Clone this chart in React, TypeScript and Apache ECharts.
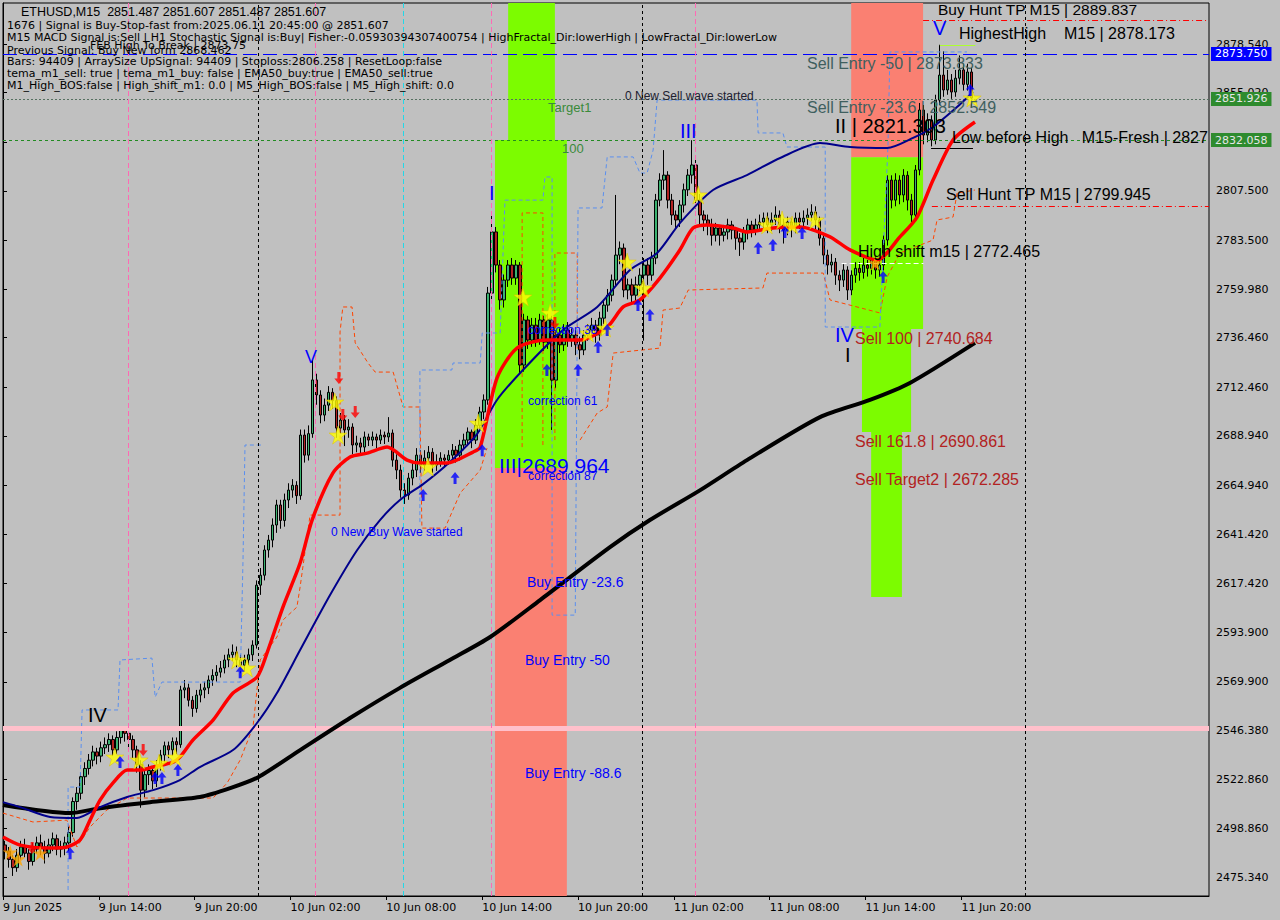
import React, { useEffect, useRef } from "react";
import * as echarts from "echarts";

// ---------------- DATA ----------------
const Y_MIN = 2466.29;
const Y_MAX = 2898.38;
const SLOT_COUNT = 302; // 15-minute slots visible (incl. right shift)

const yTickValues = [2878.54, 2855.02, 2831.02, 2807.5, 2783.5, 2759.98, 2736.46, 2712.46, 2688.94, 2664.94, 2641.42, 2617.42, 2593.9, 2569.9, 2546.38, 2522.86, 2498.86, 2475.34];
const xTickSlots = [0, 24, 48, 72, 96, 120, 144, 168, 192, 216, 240];
const xTickLabels = ["9 Jun 2025", "9 Jun 14:00", "9 Jun 20:00", "10 Jun 02:00", "10 Jun 08:00", "10 Jun 14:00", "10 Jun 20:00", "11 Jun 02:00", "11 Jun 08:00", "11 Jun 14:00", "11 Jun 20:00"];

// [open, close, low, high]
const candles: number[][] = [
  [2491,2488,2484,2493],[2488,2484,2480,2490],[2484,2480,2476,2486],[2480,2486,2478,2489],
  [2486,2490,2484,2493],[2490,2487,2485,2494],[2487,2483,2479,2489],[2483,2489,2481,2492],
  [2489,2492,2487,2495],[2492,2490,2486,2496],[2490,2487,2482,2493],[2487,2491,2485,2494],
  [2491,2494,2488,2497],[2494,2489,2486,2496],[2489,2490,2485,2493],[2490,2492,2486,2495],
  [2492,2497,2488,2500],[2497,2512,2495,2514],[2512,2516,2508,2519],[2516,2524,2513,2526],
  [2524,2528,2520,2531],[2528,2532,2525,2535],[2532,2536,2529,2539],[2536,2534,2530,2538],
  [2534,2538,2531,2541],[2538,2539.5,2535,2543],[2539.5,2542,2536,2545],[2542,2537,2534,2544],
  [2537,2543,2535,2546],[2543,2546.5,2540,2548],[2546.5,2545,2541,2548],[2545,2542,2538,2547],
  [2542,2537,2533,2544],[2537,2530,2526,2539],[2530,2517.5,2509,2532],[2517.5,2525,2514,2527],
  [2525,2527,2520,2530],[2527,2522,2518,2529],[2522,2529.6,2519,2532],[2529.6,2534.5,2527,2537],
  [2534.5,2539,2531,2541],[2539,2537,2533,2541],[2537,2541,2534,2543],[2541,2539.5,2535,2543],
  [2539.5,2566,2538,2568],[2566,2567,2562,2570.8],[2567,2561,2558,2569],[2561,2557,2553,2563],
  [2557,2563.5,2555,2566],[2563.5,2566,2560,2569],[2566,2567,2562,2570],[2567,2570.8,2564,2573],
  [2570.8,2573,2568,2576],[2573,2574.6,2570,2578],[2574.6,2576.6,2572,2580],[2576.6,2580.5,2574,2583],
  [2580.5,2583,2577,2586],[2583,2584.3,2580,2588],[2584.3,2580.5,2577,2587],[2580.5,2578,2574,2583],
  [2578,2580.5,2575,2583],[2580.5,2583,2578,2586],[2583,2587.7,2580,2590],[2587.7,2616.7,2586,2619],
  [2616.7,2621.5,2612,2625],[2621.5,2633.7,2619,2636],[2633.7,2638.5,2630,2641],[2638.5,2645.8,2635,2649],
  [2645.8,2655.5,2642,2658],[2655.5,2648,2644,2658],[2648,2657.9,2645,2661],[2657.9,2662.7,2654,2666],
  [2662.7,2665,2659,2668],[2665,2660,2656,2667],[2660,2689.3,2658,2692],[2689.3,2679.6,2676,2692],
  [2679.6,2690,2677,2694],[2690,2716,2688,2725.6],[2716,2708.7,2704,2719],[2708.7,2699,2695,2711],
  [2699,2703.8,2696,2707],[2703.8,2710,2701,2713],[2710,2706,2702,2712],[2706,2692.7,2688,2708],
  [2692.7,2696.6,2690,2700],[2696.6,2691.8,2684,2699],[2691.8,2693.2,2688,2697],[2693.2,2684.5,2680,2695],
  [2684.5,2685.5,2681,2689],[2685.5,2683.5,2680,2688],[2683.5,2688.4,2681,2691],[2688.4,2686.9,2684,2690],
  [2686.9,2688.4,2684,2691],[2688.4,2686.9,2683,2690],[2686.9,2689.3,2685,2692],[2689.3,2688.4,2685,2691],
  [2688.4,2690.3,2686,2698],[2690.3,2677.2,2674,2692],[2677.2,2672.4,2668,2680],[2672.4,2662.7,2659,2675],
  [2662.7,2660.3,2656,2666],[2660.3,2668.5,2658,2671],[2668.5,2672.4,2665,2676],[2672.4,2679.6,2669,2683],
  [2679.6,2674.8,2671,2682],[2674.8,2678.2,2672,2682],[2678.2,2681,2675,2684],[2681,2674.8,2671,2683],
  [2674.8,2676.3,2672,2680],[2676.3,2678.2,2674,2681],[2678.2,2677.2,2674,2680],[2677.2,2679.6,2675,2682],
  [2679.6,2682,2677,2685],[2682,2679.6,2676,2684],[2679.6,2684.5,2677,2687],[2684.5,2686.9,2682,2690],
  [2686.9,2690.8,2684,2693],[2690.8,2686.9,2683,2692],[2686.9,2694,2685,2697],[2694,2700.5,2691,2703],
  [2700.5,2706.3,2697,2709],[2706.3,2758,2704,2761],[2758,2787.6,2755,2797.2],[2787.6,2771.6,2768,2790],
  [2771.6,2754.7,2750,2774],[2754.7,2764.3,2751,2767],[2764.3,2771.6,2761,2774],[2771.6,2765.3,2762,2775],
  [2765.3,2771.6,2762,2774],[2771.6,2723.2,2719,2773],[2723.2,2745,2720,2748],[2745,2735.3,2731,2747],
  [2735.3,2742.5,2732,2746],[2742.5,2735.3,2732,2746],[2735.3,2745,2733,2748],[2745,2734.3,2730,2747],
  [2734.3,2745,2731,2748],[2745,2715.9,2691.8,2747],[2715.9,2737.7,2712,2740],[2737.7,2733,2729,2741],
  [2733,2740.1,2730,2743],[2740.1,2735.3,2732,2744],[2735.3,2737.7,2732,2741],[2737.7,2733,2728,2740],
  [2733,2730.5,2726,2737],[2730.5,2737.7,2728,2740],[2737.7,2740.1,2735,2743],[2740.1,2742.5,2737,2746],
  [2742.5,2737.7,2734,2745],[2737.7,2745.9,2735,2749],[2745.9,2752.2,2743,2755],[2752.2,2757,2749,2760],
  [2757,2764.3,2754,2767],[2764.3,2776.4,2761,2805.5],[2776.4,2779.8,2772,2783],[2779.8,2759.5,2756,2782],
  [2759.5,2762,2755,2765],[2762,2757,2753,2765],[2757,2762,2754,2766],[2762,2766.7,2759,2770],
  [2766.7,2771.6,2735,2775],[2771.6,2766.7,2762,2775],[2766.7,2775,2764,2778],[2775,2803,2772,2806],
  [2803,2812.7,2800,2816],[2812.7,2815.1,2808,2827.2],[2815.1,2803,2799,2817],[2803,2795.8,2791,2806],
  [2795.8,2793.4,2789,2798],[2793.4,2800.6,2790,2803],[2800.6,2808,2797,2811],[2808,2815.1,2805,2818],
  [2815.1,2820,2811,2832],[2820,2803,2799,2823],[2803,2795.8,2790,2806],[2795.8,2793.4,2788,2798],
  [2793.4,2791,2786,2796],[2791,2786,2781,2794],[2786,2789.5,2783,2792],[2789.5,2786,2781,2791],
  [2786,2787.6,2783,2791],[2787.6,2791,2784,2794],[2791,2788.5,2784,2793],[2788.5,2784.6,2779,2790],
  [2784.6,2782.7,2776,2787],[2782.7,2787.6,2779,2790],[2787.6,2791,2784,2794],[2791,2788.5,2785,2793],
  [2788.5,2791,2786,2794],[2791,2792.4,2788,2796],[2792.4,2794.3,2789,2797],[2794.3,2791,2787,2797],
  [2791,2793.4,2788,2797],[2793.4,2795.8,2791,2800],[2795.8,2791,2787,2798],[2791,2788.5,2782,2794],
  [2788.5,2792.4,2786,2795],[2792.4,2789.5,2785,2794],[2789.5,2794.3,2787,2797],[2794.3,2792.4,2789,2797],
  [2792.4,2794.3,2790,2798],[2794.3,2795.8,2791,2799],[2795.8,2797.2,2793,2801],[2797.2,2793.4,2789,2800],
  [2793.4,2784.6,2781,2795],[2784.6,2776.4,2772,2786],[2776.4,2771.6,2767,2779],[2771.6,2773,2768,2777],
  [2773,2766.7,2762,2775],[2766.7,2764.3,2759,2769],[2764.3,2769.2,2761,2772],[2769.2,2759.5,2754.7,2771],
  [2759.5,2766.7,2757,2769],[2766.7,2770,2763,2773],[2770,2768,2764,2773],[2768,2771.6,2765,2775],
  [2771.6,2770,2766,2774],[2770,2774.5,2767,2777],[2774.5,2769.2,2765,2776],[2769.2,2771.6,2766,2775],
  [2771.6,2783.7,2769,2786],[2783.7,2812.7,2781,2815],[2812.7,2803,2799,2815],[2803,2812.7,2800,2816],
  [2812.7,2805.5,2801,2815],[2805.5,2815,2802,2818],[2815,2803,2798,2817],[2803,2795.8,2791,2806],
  [2795.8,2817.6,2793,2820],[2817.6,2846.6,2815,2850],[2846.6,2834.5,2830,2849],[2834.5,2841.8,2831,2845],
  [2841.8,2832.1,2829,2844],[2832.1,2851.4,2830,2854],[2851.4,2863.5,2849,2878.17],[2863.5,2856.3,2853,2875],
  [2856.3,2861.1,2854,2866],[2861.1,2855.3,2852,2864],[2855.3,2862,2853,2866],[2862,2866,2859,2873],
  [2866,2859,2856,2869],[2859,2865,2856,2869],[2865,2852.4,2848,2867],[2851.487,2851.607,2851.487,2851.607],
];

// moving averages sampled as [slot, price]
const emaSlow: number[][] = [[0,2510.3],[16.8,2506.4],[24.3,2508.8],[36.8,2511.7],[49.3,2514.2],[56.9,2518.5],[63.9,2523.8],[74.4,2536.9],[86.9,2552.4],[99.4,2567.0],[111.9,2580.5],[122.0,2591.6],[134.5,2609.5],[152.0,2635.1],[162.0,2648.2],[174.6,2662.7],[186.3,2677.2],[204.6,2698.0],[217.1,2706.3],[227.1,2714.5],[243.4,2733.9]];
const emaMid: number[][] = [[0,2511.7],[4.3,2509.3],[11.8,2504.5],[18.5,2504.0],[24.3,2509.3],[31.1,2514.2],[37.6,2517.5],[44.3,2522.4],[49.3,2528.7],[57.6,2536.9],[63.6,2550.0],[68.6,2564.5],[74.4,2585.3],[81.9,2611.9],[88.7,2633.7],[94.4,2648.2],[99.4,2657.9],[105.2,2665.6],[111.9,2676.3],[118.7,2689.8],[123.7,2706.3],[130.2,2720.8],[140.2,2740.1],[148.8,2751.3],[157.0,2769.2],[163.8,2777.4],[169.5,2791.9],[177.8,2807.9],[186.3,2815.1],[194.6,2823.4],[204.6,2830.6],[212.1,2828.7],[221.4,2828.2],[227.9,2833.1],[232.9,2838.4],[238.9,2848.0],[242.9,2855.3]];
const emaFast: number[][] = [[0,2494.8],[4.3,2490.9],[11.8,2489.5],[16.0,2490.0],[19.3,2493.4],[21.8,2503.0],[24.3,2512.7],[27.5,2520.9],[31.1,2527.2],[34.3,2527.2],[37.6,2528.7],[42.6,2531.1],[44.3,2533.5],[47.6,2541.8],[52.6,2551.4],[57.6,2564.5],[63.6,2572.2],[66.1,2583.8],[70.1,2606.1],[74.4,2627.4],[77.4,2648.2],[82.6,2670.9],[86.9,2678.7],[91.2,2680.6],[96.2,2683.5],[101.2,2677.2],[104.4,2675.8],[111.2,2675.8],[117.7,2681.1],[119.5,2683.5],[123.7,2716.9],[128.7,2731.4],[136.2,2735.3],[144.5,2735.3],[151.3,2741.6],[155.3,2751.3],[159.5,2754.7],[164.5,2765.3],[169.5,2778.9],[172.8,2789.5],[176.3,2791.0],[182.8,2789.5],[186.3,2787.6],[192.8,2789.5],[199.6,2790.0],[207.1,2785.2],[212.1,2778.9],[218.9,2774.0],[224.6,2785.2],[228.9,2794.8],[232.9,2812.7],[237.9,2832.1],[243.4,2840.8]];

// channel (step) lines, [slot, price]
const chanOrangeA: number[][] = [[0,2506.4],[7.5,2502.1],[16.0,2503.0],[18.5,2490.0],[21.8,2499.7],[26.0,2507.9],[31.1,2513.7],[52.6,2513.7],[56.1,2520.9],[59.4,2532.1],[62.6,2548.0],[64.4,2580.5],[68.6,2591.6],[70.1,2599.8],[73.6,2606.1],[74.4,2615.8],[76.9,2650.6],[84.4,2650.6],[84.4,2739.2],[85.1,2751.3],[87.4,2751.3],[88.2,2733.9],[91.4,2724.2],[93.2,2719.8],[97.7,2719.8],[100.2,2702.9],[104.4,2702.9],[104.9,2644.3],[110.7,2644.3],[114.5,2661.3],[119.5,2672.4],[121.2,2683.0]];
const chanOrangeB: number[][] = [[144.5,2686.9],[148.8,2700.0],[151.3,2702.9],[152.8,2729.0],[164.5,2731.4],[165.3,2749.8],[169.5,2750.8],[171.6,2759.5],[190.3,2760.5],[191.3,2767.7],[205.4,2767.7],[207.1,2754.7],[212.1,2752.2],[219.6,2748.4],[221.4,2765.8],[224.6,2777.4],[232.9,2783.7],[233.9,2793.4],[237.9,2794.8],[238.9,2806.4],[243.4,2807.9]];
const chanOrangeC: number[][] = [[130.0,2683.5],[130.0,2796.8],[135.2,2796.8],[135.2,2683.5]];
const chanOrangeD: number[][] = [[138.2,2686.9],[138.2,2777.4],[143.8,2777.4],[143.8,2730.5]];
const chanBlueA: number[][] = [[16.3,2469.2],[16.3,2519.0],[19.3,2519.0],[19.8,2556.3],[28.8,2556.3],[29.3,2580.5],[37.3,2581.4],[38.1,2562.5],[39.8,2569.8],[59.4,2569.8],[60.1,2628.8],[60.6,2684.5],[64.9,2684.5]];
const chanBlueB: number[][] = [[104.4,2647.2],[104.4,2720.8],[112.4,2720.8],[112.7,2724.2],[119.5,2724.2],[120.0,2738.7],[124.5,2738.7],[125.7,2803.0],[135.2,2803.0],[135.7,2814.2],[137.5,2814.2],[137.5,2602.2],[143.3,2602.2],[144.0,2799.2],[150.0,2799.2],[151.3,2823.9],[157.8,2823.9],[159.5,2816.1],[161.3,2816.1],[162.8,2827.2],[163.8,2851.4],[188.8,2851.4],[189.1,2835.5],[195.3,2835.5],[196.3,2828.7],[205.9,2828.7],[205.9,2741.6],[219.6,2741.6],[221.6,2828.7],[222.1,2874.7],[241.4,2874.7]];

// signal markers [slot, price]
const starsYellow: number[][] = [[28.0,2533.5],[34.1,2532.1],[39.1,2530.6],[43.1,2533.5],[58.6,2580.5],[61.1,2576.6],[83.1,2705.3],[83.9,2689.3],[106.4,2673.9],[119.0,2695.1],[130.2,2756.1],[137.0,2748.4],[146.5,2738.7],[150.8,2741.1],[156.3,2773.0],[160.3,2760.5],[174.1,2805.5],[191.3,2791.0],[195.1,2793.4],[197.6,2791.0],[203.4,2793.4],[242.7,2852.4]];
const starsOrange: number[][] = [[1.8,2487.5],[3.8,2484.2],[9.3,2487.0],[218.4,2772.6]];
const arrowsUp: number[][] = [[16.8,2487.0],[29.3,2531.1],[38.1,2523.4],[39.8,2523.4],[43.8,2527.2],[59.4,2574.6],[105.2,2660.3],[113.2,2668.5],[120.0,2682.0],[136.2,2720.8],[144.0,2720.8],[149.0,2731.9],[151.3,2740.1],[159.0,2752.2],[162.0,2747.4],[189.1,2779.8],[192.8,2781.3],[195.8,2787.6],[200.1,2787.1],[220.4,2765.8],[242.2,2856.3]];
const arrowsDown: number[][] = [[7.3,2489.5],[35.1,2536.9],[84.1,2716.9],[85.1,2699.0],[88.2,2700.5],[138.2,2743.5]];

// price levels
const levelBlue = 2873.75;
const levelGreenA = 2851.926;
const levelGreenB = 2832.058;
const levelPink = 2547.6;
const buyHuntTP = 2889.837;
const sellHuntTP = 2799.945;
const highShift = 2772.465;
const highestHigh = 2878.173;
const lowBeforeHigh = 2828.2;
const daySeparators = [64, 160, 256];
const sessionPink = [31.3, 78.1, 122.2, 173.3];
const sessionCyan = [100.2];

// zones: [slotFrom, slotTo, priceLow, priceHigh, kind]
const zones: (number | string)[][] = [
  [126.5, 138.2, 2832.058, Y_MAX, "green"],
  [123.2, 141.2, 2673.4, 2832.058, "green"],
  [123.2, 141.2, Y_MIN, 2673.4, "red"],
  [212.4, 230.4, 2823.8, Y_MAX, "red"],
  [212.4, 230.4, 2740.684, 2823.8, "green"],
  [215.1, 227.4, 2690.861, 2740.684, "green"],
  [217.4, 225.1, 2611.0, 2690.861, "green"],
];

// ---------------- LAYOUT / STYLE ----------------
const SANS = '"Liberation Sans", Arial, sans-serif';
const AXISFONT = '"DejaVu Sans", sans-serif';
const BLUE = "#0000FF";
const SELL = "#B22222";
const GRAY = "#3F5F5F";

const headerTexts: [string, number, number, number, string][] = [
  ["ETHUSD,M15  2851.487 2851.607 2851.487 2851.607", 21, 12, 12.5, SANS],
  ["1676 | Signal is Buy-Stop-fast from:2025.06.11 20:45:00 @ 2851.607", 7, 25, 11, AXISFONT],
  ["M15 MACD Signal is:Sell | H1 Stochastic Signal is:Buy| Fisher:-0.05930394307400754 | HighFractal_Dir:lowerHigh | LowFractal_Dir:lowerLow", 7, 37, 11, AXISFONT],
  ["Previous Signal: Buy New form 2868.462", 7, 50, 11, AXISFONT],
  ["FEB High To Break | 2873.75", 90, 45, 11, AXISFONT],
  ["Bars: 94409 | ArraySize UpSignal: 94409 | Stoploss:2806.258 | ResetLoop:false", 7, 61, 11, AXISFONT],
  ["tema_m1_sell: true | tema_m1_buy: false | EMA50_buy:true | EMA50_sell:true", 7, 73, 11, AXISFONT],
  ["M1_High_BOS:false | High_shift_m1: 0.0 | M5_High_BOS:false | M5_High_shift: 0.0", 7, 85, 11, AXISFONT],
];

const annotations: [string, number, number, number, string][] = [
  ["Buy Hunt TP M15 | 2889.837", 938, 9, 15.5, "#000000"],
  ["V", 933, 28, 20, BLUE],
  ["HighestHigh    M15 | 2878.173", 959, 33, 16, "#000000"],
  ["Sell Entry -50 | 2873.833", 807, 63, 16, GRAY],
  ["Sell Entry -23.6 | 2852.549", 807, 107, 16, GRAY],
  ["II | 2821.303", 835, 126, 20, "#000000"],
  ["Low before High   M15-Fresh | 2827", 952, 137, 16, "#000000"],
  ["Sell Hunt TP M15 | 2799.945", 946, 194, 16, "#000000"],
  ["High shift m15 | 2772.465", 858, 251, 16, "#000000"],
  ["Sell 100 | 2740.684", 855, 338, 16, SELL],
  ["Sell 161.8 | 2690.861", 855, 441, 16, SELL],
  ["Sell Target2 | 2672.285", 855, 479, 16, SELL],
  ["IV", 835, 335, 20, BLUE],
  ["I", 845, 355, 20, "#000000"],
  ["Target1", 548, 107, 13, "#3A8A3A"],
  ["100", 562, 148, 13, "#3A8A3A"],
  ["0 New Sell wave started", 625, 96, 12, "#202030"],
  ["III", 680, 131, 20, BLUE],
  ["I", 489, 193, 20, BLUE],
  ["V", 305, 357, 18, BLUE],
  ["correction 38", 528, 330, 12, BLUE],
  ["correction 61", 528, 401, 12, BLUE],
  ["III|2689.964", 499, 465, 21, BLUE],
  ["correction 87", 528, 476, 12, BLUE],
  ["0 New Buy Wave started", 331, 532, 12, BLUE],
  ["Buy Entry -23.6", 527, 582, 14, BLUE],
  ["Buy Entry -50", 525, 660, 14, BLUE],
  ["Buy Entry -88.6", 525, 773, 14, BLUE],
  ["IV", 88, 715, 20, "#000000"],
];

const STAR = "path://M50,0 L61,35 L98,35 L68,57 L79,91 L50,70 L21,91 L32,57 L2,35 L39,35 Z";
const ARROW = "path://M6,0 L12,6 L8,6 L8,13 L4,13 L4,6 L0,6 Z";

function buildSlots(): string[] {
  const start = Date.UTC(2025, 5, 9, 8, 0, 0);
  const out: string[] = [];
  for (let k = 0; k < SLOT_COUNT; k++) {
    const d = new Date(start + k * 15 * 60000);
    out.push(d.toISOString().slice(0, 16));
  }
  return out;
}

function boxLabel(text: string, bg: string, fg: string) {
  return {
    show: true, position: "end", distance: 2, formatter: text,
    backgroundColor: bg, color: fg, fontFamily: AXISFONT, fontSize: 11,
    padding: [1, 4, 1, 4], lineHeight: 12,
  };
}

function buildOption() {
  const dash = (color: string, w = 1, type: any = [4, 3]) => ({ color, width: w, type });
  const markLines: any[] = [
    { yAxis: levelPink, lineStyle: dash("#FFC0CB", 5, "solid") },
    { yAxis: levelBlue, lineStyle: dash(BLUE, 1, [14, 6]), label: boxLabel("2873.750", BLUE, "#FFFFFF") },
    { yAxis: levelGreenA, lineStyle: dash("#55705F", 1, [2, 2]), label: boxLabel("2851.926", "#2E8B2E", "#E6E6E6") },
    { yAxis: levelGreenB, lineStyle: dash("#228B22", 1, [3, 3]), label: boxLabel("2832.058", "#2E8B2E", "#E6E6E6") },
    [{ coord: [230.4, buyHuntTP], lineStyle: dash("#FF0000", 1, [6, 3, 1, 3]) }, { coord: [SLOT_COUNT, buyHuntTP] }],
    [{ coord: [232.6, sellHuntTP], lineStyle: dash("#FF0000", 1, [6, 3, 1, 3]) }, { coord: [SLOT_COUNT, sellHuntTP] }],
    [{ coord: [210, highShift], lineStyle: dash("#FFFFFF", 1, [5, 3]) }, { coord: [230.5, highShift] }],
    [{ coord: [234.6, highestHigh], lineStyle: dash("#ADFF2F", 1, "solid") }, { coord: [243.5, highestHigh] }],
    [{ coord: [232.4, lowBeforeHigh], lineStyle: dash("#000000", 1, "solid") }, { coord: [242.9, lowBeforeHigh] }],
    ...daySeparators.map((v) => ({ xAxis: v, lineStyle: dash("#000000", 1, [3, 3]) })),
    ...sessionPink.map((v) => ({ xAxis: v, lineStyle: dash("#FF69B4", 1, [5, 3]) })),
    ...sessionCyan.map((v) => ({ xAxis: v, lineStyle: dash("#22D8E8", 1, [5, 3]) })),
  ];

  const areaData = zones.map((z) => [
    { coord: [z[0], z[2]], itemStyle: { color: z[4] === "green" ? "#7CFC00" : "#FA8072", opacity: 1 } },
    { coord: [z[1], z[3]] },
  ]);

  const chan = (data: number[][], color: string) => ({
    type: "line", xAxisIndex: 1, yAxisIndex: 0, data, showSymbol: false, symbol: "none", z: 4,
    lineStyle: { color, width: 1, type: [4, 3] }, silent: true,
  });
  const ma = (data: number[][], color: string, width: number, z: number) => ({
    type: "line", xAxisIndex: 1, yAxisIndex: 0, data, showSymbol: false, symbol: "none", z,
    smooth: 0.25, lineStyle: { color, width }, silent: true,
  });
  const marker = (data: number[][], symbol: string, size: any, color: string, rotate = 0, border = "") => ({
    type: "scatter", xAxisIndex: 1, yAxisIndex: 0, data, symbol, symbolSize: size, symbolRotate: rotate, z: 8,
    itemStyle: { color, borderColor: border || color, borderWidth: border ? 0.6 : 0 }, silent: true,
  });

  const graphics: any[] = [];
  headerTexts.forEach(([t, x, y, s, f]) => {
    graphics.push({ type: "text", x, y, z: 100, silent: true,
      style: { text: t, fill: "#000000", fontFamily: f, fontSize: s, verticalAlign: "middle", align: "left" } });
  });
  annotations.forEach(([t, x, y, s, c]) => {
    graphics.push({ type: "text", x, y, z: 100, silent: true,
      style: { text: t, fill: c, fontFamily: SANS, fontSize: s, verticalAlign: "middle", align: "left" } });
  });

  return {
    animation: false,
    backgroundColor: "#C0C0C0",
    grid: { left: 3, right: 71, top: 3, bottom: 24, show: true, borderColor: "#000000", borderWidth: 1, backgroundColor: "transparent" },
    xAxis: [
      { type: "category", data: buildSlots(), boundaryGap: true, show: false },
      {
        type: "value", min: 0, max: SLOT_COUNT, position: "bottom",
        axisLine: { show: true, onZero: false, lineStyle: { color: "#000000", width: 1 } },
        axisTick: { show: true, length: 4, customValues: xTickSlots, lineStyle: { color: "#000000" } },
        axisLabel: {
          customValues: xTickSlots, align: "left", margin: 6, color: "#000000", fontFamily: AXISFONT, fontSize: 11,
          formatter: (v: number) => { const i = xTickSlots.indexOf(Math.round(v)); return i >= 0 ? xTickLabels[i] : ""; },
        },
        splitLine: { show: false },
      },
    ],
    yAxis: [{
      type: "value", position: "right", min: Y_MIN, max: Y_MAX, scale: true,
      axisLine: { show: true, lineStyle: { color: "#000000", width: 1 } },
      axisTick: { show: true, length: 4, inside: false, customValues: yTickValues, lineStyle: { color: "#000000" } },
      axisLabel: { customValues: yTickValues, formatter: (v: number) => v.toFixed(3), color: "#000000", fontFamily: AXISFONT, fontSize: 11, margin: 7 },
      splitLine: { show: false },
    }],
    series: [
      {
        type: "scatter", xAxisIndex: 1, yAxisIndex: 0, data: [], z: 1, silent: true,
        markArea: { silent: true, data: areaData },
      },
      {
        type: "scatter", xAxisIndex: 1, yAxisIndex: 0, data: [], z: 2, silent: true,
        markLine: { silent: true, symbol: ["none", "none"], label: { show: false }, data: markLines, animation: false },
      },
      {
        type: "candlestick", xAxisIndex: 0, yAxisIndex: 0, data: candles, barWidth: 3, z: 3, silent: true,
        itemStyle: { color: "#3CB371", color0: "#B22222", borderColor: "#000000", borderColor0: "#000000", borderWidth: 1 },
      },
      chan(chanOrangeA, "#FF4500"),
      chan(chanOrangeB, "#FF4500"),
      chan(chanOrangeC, "#FF4500"),
      chan(chanOrangeD, "#FF4500"),
      chan(chanBlueA, "#5A8FEF"),
      chan(chanBlueB, "#5A8FEF"),
      ma(emaSlow, "#000000", 4, 5),
      ma(emaMid, "#00008B", 2, 6),
      ma(emaFast, "#FF0000", 3.5, 7),
      marker(starsOrange, STAR, 15, "#FFA500"),
      marker(starsYellow, STAR, 18, "#FFFF00", 0, "#E0C000"),
      marker(arrowsUp, ARROW, [9, 12], BLUE),
      marker(arrowsDown, ARROW, [9, 12], "#FF0000", 180),
    ],
    graphic: graphics,
  };
}

export default function App() {
  const ref = useRef<HTMLDivElement>(null);
  useEffect(() => {
    if (!ref.current) return;
    const chart = echarts.init(ref.current, null, { renderer: "svg" });
    chart.setOption(buildOption() as any);
    return () => chart.dispose();
  }, []);
  return (
    <div
      ref={ref}
      style={{ position: "absolute", left: 0, top: 0, width: 1280, height: 920, background: "#C0C0C0" }}
    />
  );
}
